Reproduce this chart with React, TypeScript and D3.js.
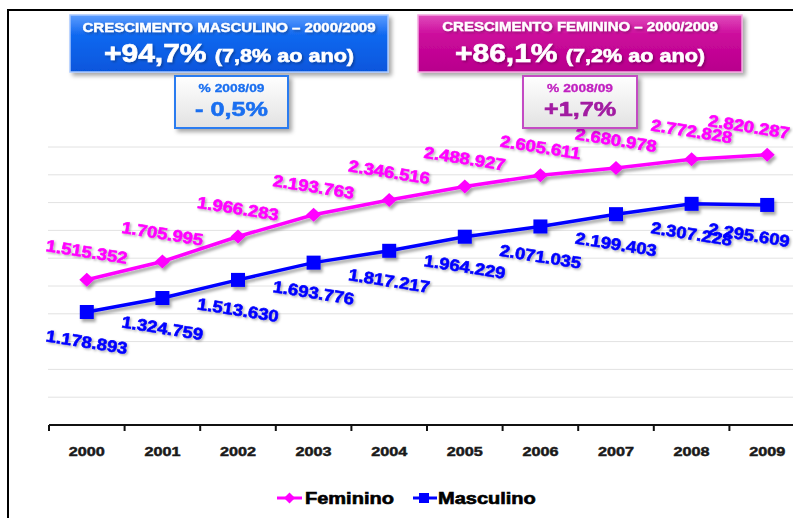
import React from 'react';
import * as d3 from 'd3';

// dados (população por sexo)
const years = ['2000', '2001', '2002', '2003', '2004', '2005', '2006', '2007', '2008', '2009'];
const feminino = [1515352, 1705995, 1966283, 2193763, 2346516, 2488927, 2605611, 2680978, 2772828, 2820287];
const masculino = [1178893, 1324759, 1513630, 1693776, 1817217, 1964229, 2071035, 2199403, 2307228, 2295609];
const gridStep = 290000;
const gridCount = 10;

const W = 793, H = 518;
const FONT = 'Liberation Sans, Arial, sans-serif';
const fmt = (v: number) => d3.format(',')(v).replace(/,/g, '.');

// texto "esticado" na horizontal, como na imagem original
function SText({ x, y, rotate = 0, sx = 1.2, fill, weight = 0.45, children, ...rest }: any) {
	return (
		<text transform={`translate(${x},${y}) rotate(${rotate}) scale(${sx},1)`} fontFamily={FONT} fontWeight="bold"
			fill={fill} stroke={fill} strokeWidth={weight} {...rest}>
			{children}
		</text>
	);
}

export default function App() {
	const x = d3.scaleBand().domain(years).range([49, 805]);
	const y = d3.scaleLinear().domain([0, gridStep * gridCount]).range([425, 147]);
	const cx = (yr: string) => (x(yr) as number) + x.bandwidth() / 2;
	const gridValues = d3.range(1, gridCount + 1).map((i) => i * gridStep);

	const line = d3.line<number>()
		.x((_, i) => cx(years[i]))
		.y((d) => y(d));

	// o último rótulo encosta na borda direita
	const labelX = (yr: string) => Math.min(cx(yr), 749);

	return (
		<svg width={W} height={H} style={{ position: 'absolute', left: 0, top: 0, background: '#fff' }}>
			<defs>
				<filter id="shadow" x="-20%" y="-20%" width="140%" height="160%">
					<feDropShadow dx="2" dy="3" stdDeviation="1.5" floodColor="#000" floodOpacity="0.35" />
				</filter>
				<filter id="tshadow" x="-10%" y="-30%" width="120%" height="160%">
					<feDropShadow dx="1.5" dy="1.5" stdDeviation="1" floodColor="#000" floodOpacity="0.3" />
				</filter>
				<filter id="bshadow" x="-10%" y="-20%" width="125%" height="150%">
					<feDropShadow dx="3" dy="3" stdDeviation="2" floodColor="#000" floodOpacity="0.35" />
				</filter>
				<linearGradient id="gBlue" x1="0" y1="0" x2="0" y2="1">
					<stop offset="0" stopColor="#5c9dff" />
					<stop offset="0.35" stopColor="#1068f0" />
					<stop offset="1" stopColor="#0656dc" />
				</linearGradient>
				<linearGradient id="gPink" x1="0" y1="0" x2="0" y2="1">
					<stop offset="0" stopColor="#e04cbc" />
					<stop offset="0.35" stopColor="#cc0a9c" />
					<stop offset="1" stopColor="#b8008c" />
				</linearGradient>
				<linearGradient id="gWhite" x1="0" y1="0" x2="0" y2="1">
					<stop offset="0" stopColor="#ffffff" />
					<stop offset="1" stopColor="#e2e2e2" />
				</linearGradient>
			</defs>

			{/* moldura */}
			<line x1={7} x2={W} y1={10} y2={10} stroke="#000" strokeWidth={2} />
			<line x1={8} x2={8} y1={10} y2={H} stroke="#000" strokeWidth={2} />

			{/* grade */}
			{gridValues.map((v) => (
				<line key={v} x1={48} x2={x.range()[1]} y1={y(v)} y2={y(v)} stroke="#e2e2e2" strokeWidth={1} />
			))}

			{/* eixo x */}
			<line x1={x.range()[0]} x2={x.range()[1]} y1={y(0)} y2={y(0)} stroke="#111" strokeWidth={2} />
			{years.map((yr) => (
				<g key={yr}>
					<line x1={x(yr)} x2={x(yr)} y1={y(0)} y2={y(0) + 6} stroke="#111" strokeWidth={2} />
					<SText x={cx(yr)} y={y(0) + 31} textAnchor="middle" fontSize={13.5} fill="#1a1a1a" weight={0.5}>{yr}</SText>
				</g>
			))}

			{/* séries */}
			<g filter="url(#shadow)">
				<path d={line(masculino) as string} fill="none" stroke="#0000ff" strokeWidth={3.5} />
				{masculino.map((v, i) => (
					<rect key={i} x={cx(years[i]) - 7} y={y(v) - 7} width={14} height={14} fill="#0000ff" />
				))}
				<path d={line(feminino) as string} fill="none" stroke="#ff00ff" strokeWidth={3.5} />
				{feminino.map((v, i) => {
					const px = cx(years[i]), py = y(v);
					return <path key={i} d={`M${px},${py - 7}L${px + 7.5},${py}L${px},${py + 7}L${px - 7.5},${py}Z`} fill="#ff00ff" />;
				})}
			</g>

			{/* rótulos */}
			<g filter="url(#tshadow)">
				{feminino.map((v, i) => (
					<SText key={'f' + i} x={labelX(years[i])} y={y(v) - 28} rotate={9} sx={1.12} textAnchor="middle" dy="0.35em" fontSize={16.5} fill="#ff00ff" weight={0.6}>{fmt(v)}</SText>
				))}
				{masculino.map((v, i) => (
					<SText key={'m' + i} x={labelX(years[i])} y={y(v) + 30} rotate={9} sx={1.12} textAnchor="middle" dy="0.35em" fontSize={16.5} fill="#0000ff" weight={0.6}>{fmt(v)}</SText>
				))}
			</g>

			{/* caixas de título */}
			<rect x={70} y={15} width={318} height={57} fill="url(#gBlue)" stroke="#a8c8ff" strokeWidth={1.5} filter="url(#bshadow)" />
			<g filter="url(#tshadow)">
				<SText x={229} y={32} textAnchor="middle" fontSize={12.5} fill="#fff" weight={0.4}>CRESCIMENTO MASCULINO – 2000/2009</SText>
				<SText x={229} y={62} textAnchor="middle" fontSize={25} fill="#fff" weight={0.6}>
					+94,7% <tspan fontSize={18}>(7,8% ao ano)</tspan>
				</SText>
			</g>
			<rect x={175} y={76} width={113} height={52} fill="url(#gWhite)" stroke="#2a7cf0" strokeWidth={2} filter="url(#bshadow)" />
			<SText x={231.5} y={92} textAnchor="middle" fontSize={11.5} fill="#1a6ff0" weight={0.3}>% 2008/09</SText>
			<SText x={231.5} y={116} textAnchor="middle" fontSize={21} fill="#1a6ff0" weight={0.6}>- 0,5%</SText>

			<rect x={418} y={15} width={324} height={57} fill="url(#gPink)" stroke="#f2a8e0" strokeWidth={1.5} filter="url(#bshadow)" />
			<g filter="url(#tshadow)">
				<SText x={580} y={31} textAnchor="middle" fontSize={12.5} fill="#fff" weight={0.4}>CRESCIMENTO FEMININO – 2000/2009</SText>
				<SText x={580} y={62} textAnchor="middle" fontSize={25} fill="#fff" weight={0.6}>
					+86,1% <tspan fontSize={18}>(7,2% ao ano)</tspan>
				</SText>
			</g>
			<rect x={523} y={76} width={114} height={52} fill="url(#gWhite)" stroke="#c44cc4" strokeWidth={2} filter="url(#bshadow)" />
			<SText x={580} y={92} textAnchor="middle" fontSize={11.5} fill="#c020c0" weight={0.3}>% 2008/09</SText>
			<SText x={580} y={116} textAnchor="middle" fontSize={21} fill="#a21ca2" weight={0.6}>+1,7%</SText>

			{/* legenda */}
			<g>
				<line x1={277} x2={302} y1={498} y2={498} stroke="#ff00ff" strokeWidth={3} />
				<path d="M289.5,492.5L295,498L289.5,503.5L284,498Z" fill="#ff00ff" />
				<SText x={305} y={498} dy="0.35em" fontSize={16} sx={1.25} fill="#000" weight={0.6}>Feminino</SText>
				<line x1={413} x2={437} y1={498} y2={498} stroke="#0000ff" strokeWidth={3} />
				<rect x={419} y={493} width={10} height={10} fill="#0000ff" />
				<SText x={438} y={498} dy="0.35em" fontSize={16} sx={1.25} fill="#000" weight={0.6}>Masculino</SText>
			</g>
		</svg>
	);
}
